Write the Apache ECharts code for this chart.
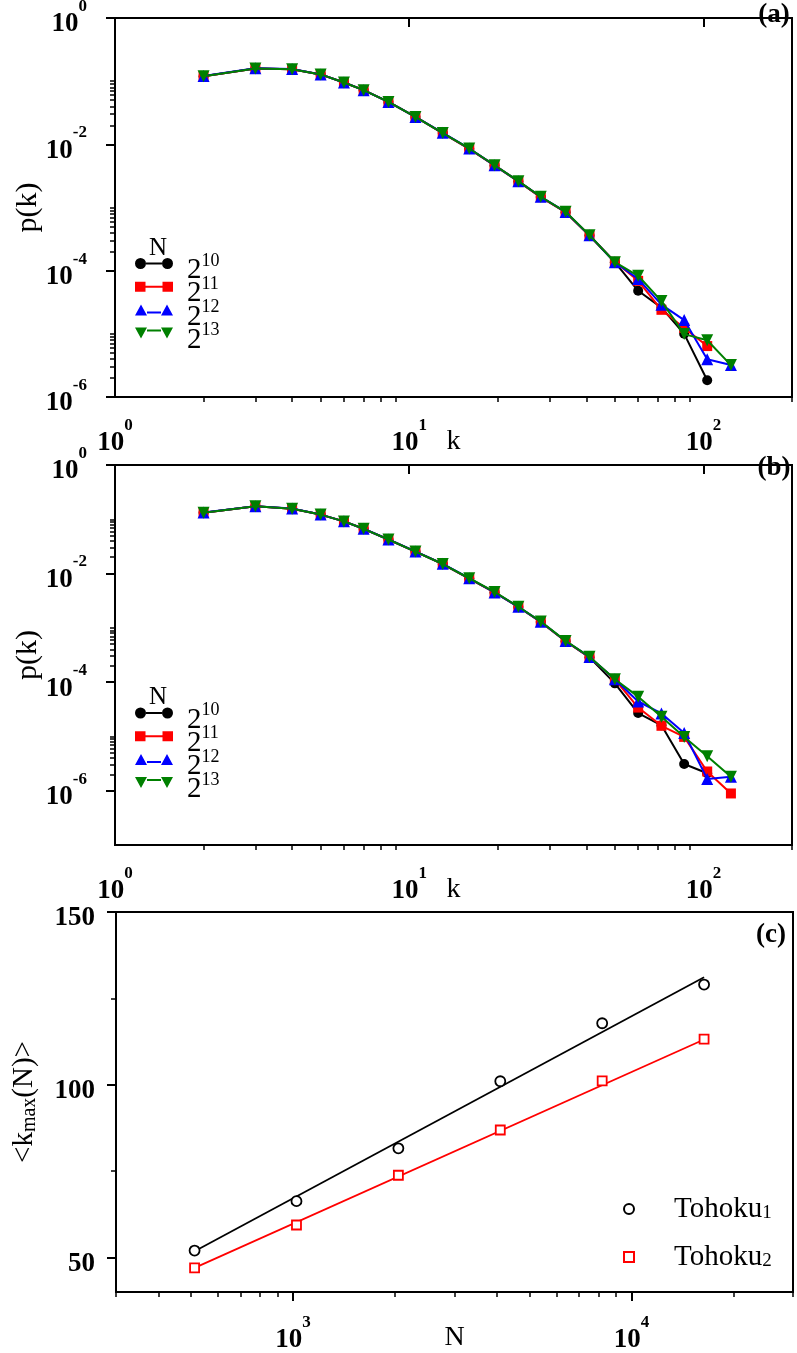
<!DOCTYPE html>
<html><head><meta charset="utf-8">
<script src="https://cdn.jsdelivr.net/npm/echarts@6/dist/echarts.min.js"></script>
<style>html,body{margin:0;padding:0;background:#fff}#c{width:797px;height:1353px}</style>
</head><body><div id="c"></div>
<script>
// ---------- data ----------
const kValues = [2,3,4,5,6,7,8.5,10.5,13,16,19.5,23.5,28,34,41,50,60,72,86,103,124];
const seriesNames = ['2^10','2^11','2^12','2^13'];
const seriesColors = ['#000000','#ff0000','#0000ff','#008000'];

// panel (a)
const pA_2_10 = [0.120,0.159,0.155,0.128,0.0954,0.0720,0.0469,0.0271,0.0151,0.0085,0.00464,0.00259,0.00146,0.000843,0.000360,0.000136,4.8e-5,2.6e-5,1.0e-5,1.84e-6];
const pA_2_11 = [0.120,0.159,0.155,0.128,0.0954,0.0720,0.0469,0.0271,0.0151,0.0085,0.00464,0.00259,0.00146,0.000843,0.000360,0.000138,6.9e-5,2.4e-5,1.24e-5,6.4e-6];
const pA_2_12 = [0.121,0.160,0.156,0.128,0.0955,0.0721,0.0470,0.0272,0.0152,0.0086,0.00465,0.00260,0.00148,0.000850,0.000362,0.000136,7.4e-5,2.9e-5,1.65e-5,3.96e-6,3.2e-6];
const pA_2_13 = [0.120,0.159,0.155,0.128,0.0953,0.0720,0.0469,0.0271,0.0151,0.0086,0.00466,0.00261,0.00148,0.000855,0.000365,0.000136,8.3e-5,3.3e-5,9.9e-6,7.9e-6,3.2e-6];

// panel (b)
const pB_2_10 = [0.132,0.173,0.157,0.122,0.0914,0.0668,0.0424,0.0254,0.0150,0.0081,0.0045,0.00242,0.00128,0.000567,0.000286,9.5e-5,2.7e-5,1.6e-5,3.1e-6,2.1e-6];
const pB_2_11 = [0.132,0.173,0.157,0.122,0.0914,0.0668,0.0424,0.0254,0.0150,0.0081,0.0045,0.00242,0.00128,0.000567,0.000288,1.13e-4,3.4e-5,1.57e-5,9.8e-6,2.26e-6,8.9e-7];
const pB_2_12 = [0.133,0.174,0.158,0.122,0.0916,0.0669,0.0425,0.0255,0.0151,0.0082,0.0045,0.00244,0.00130,0.000572,0.000292,1.13e-4,4.4e-5,2.65e-5,1.16e-5,1.65e-6,1.8e-6];
const pB_2_13 = [0.132,0.173,0.157,0.122,0.0914,0.0668,0.0424,0.0254,0.0150,0.0082,0.0046,0.00245,0.00131,0.000575,0.000294,1.13e-4,5.4e-5,2.3e-5,9.8e-6,4.3e-6,1.8e-6];

// panel (c)
const NValues = [512,1024,2048,4096,8192,16384];
const tohoku1 = [52.0,66.3,81.6,101.0,117.8,129.0];
const tohoku2 = [47.0,59.4,73.8,86.9,101.1,113.2];
const fitN = [512,16384];
const fit1 = [51.8,131.1];
const fit2 = [47.0,113.1];

// tick labels / tick values
const kMajorTicks = [1,10,100];
const kMinorTicks = [2,3,4,5,6,7,8,9,20,30,40,50,60,70,80,90,200];
const pMajorTicks = [1e-6,1e-4,1e-2,1];
const pMinorTicks = [2e-6,3e-6,4e-6,5e-6,6e-6,7e-6,8e-6,9e-6,1e-5,
                     2e-4,3e-4,4e-4,5e-4,6e-4,7e-4,8e-4,9e-4,1e-3,
                     2e-2,3e-2,4e-2,5e-2,6e-2,7e-2,8e-2,9e-2,1e-1];
const NMajorTicks = [1000,10000];
const NMinorTicks = [300,400,500,600,700,800,900,2000,3000,4000,5000,6000,7000,8000,9000,20000,30000];
const kmaxTicks = [50,100,150];
const kmaxMinorTicks = [75,125];

// ---------- chart ----------
const SERIF = "'Liberation Serif','Times New Roman',serif";
const L10 = Math.log10;
const chart = echarts.init(document.getElementById('c'));

const tickRich = {
  b:{fontFamily:SERIF,fontWeight:'bold',fontSize:27,lineHeight:40,verticalAlign:'bottom',color:'#000'},
  s:{fontFamily:SERIF,fontWeight:'bold',fontSize:17,lineHeight:17,verticalAlign:'top',color:'#000'}
};
const powLabel = v => '{b|10}{s|' + Math.round(v) + '}';
const plainLabel = v => '{b|' + Math.round(v) + '}';
const nameStyle = {fontFamily:SERIF,fontSize:28,color:'#000'};

function dataAxis(type, grid, min, max){
  return {type:type, gridIndex:grid, min:min, max:max, show:false, splitLine:{show:false}};
}
function majorAxis(pos, grid, min, max, ticks, margin, extra, fmt){
  return Object.assign({
    type:'value', gridIndex:grid, position:pos, min:min, max:max,
    axisLine:{show:false}, splitLine:{show:false},
    axisTick:{show:true, inside:false, length:9, customValues:ticks, lineStyle:{color:'#000',width:2}},
    axisLabel:{show:true, customValues:ticks, formatter:fmt||powLabel, rich:tickRich, margin:margin,
               fontFamily:SERIF, fontWeight:'bold', fontSize:27, color:'#000'},
    nameMoveOverlap:false
  }, extra||{});
}
function minorAxis(pos, grid, min, max, ticks){
  return {type:'value', gridIndex:grid, position:pos, min:min, max:max,
    axisLine:{show:false}, splitLine:{show:false},
    axisTick:{show:true, inside:false, length:5, customValues:ticks, lineStyle:{color:'#000',width:1.5}},
    axisLabel:{show:false}};
}

const gridBase = {show:true, borderColor:'#000', borderWidth:2, backgroundColor:'transparent', containLabel:false, outerBoundsMode:'none'};
const grids = [
  Object.assign({left:115, top:18, width:677, height:379}, gridBase),
  Object.assign({left:115, top:465, width:677, height:380}, gridBase),
  Object.assign({left:116, top:912, width:677, height:380}, gridBase)
];

const kNameExtra = {name:'k', nameLocation:'middle', nameGap:31, nameTextStyle:nameStyle};
const pNameExtra = {name:'p(k)', nameLocation:'middle', nameGap:72, nameTextStyle:{fontFamily:SERIF,fontSize:30,color:'#000'}};
const kmaxNameExtra = {name:'{n|<k}{u|max}{n|(N)>}', nameLocation:'middle', nameGap:76,
  nameTextStyle:{rich:{
    n:{fontFamily:SERIF,fontSize:29,lineHeight:30,verticalAlign:'top',color:'#000'},
    u:{fontFamily:SERIF,fontSize:20,lineHeight:14,verticalAlign:'bottom',color:'#000'}}}};

const xAxes = [
  dataAxis('log',0,1,200),
  majorAxis('bottom',0,0,L10(200),kMajorTicks.map(L10),20,kNameExtra),
  minorAxis('bottom',0,0,L10(200),kMinorTicks.map(L10)),
  dataAxis('log',1,1,200),
  majorAxis('bottom',1,0,L10(200),kMajorTicks.map(L10),20,kNameExtra),
  minorAxis('bottom',1,0,L10(200),kMinorTicks.map(L10)),
  dataAxis('log',2,300,30000),
  majorAxis('bottom',2,L10(300),L10(30000),NMajorTicks.map(L10),22,{name:'N', nameLocation:'middle', nameGap:32, nameTextStyle:nameStyle}),
  minorAxis('bottom',2,L10(300),L10(30000),NMinorTicks.map(L10))
];
const yAxes = [
  dataAxis('log',0,1e-6,1),
  majorAxis('left',0,-6,0,pMajorTicks.map(L10),28,pNameExtra),
  minorAxis('left',0,-6,0,pMinorTicks.map(L10)),
  dataAxis('log',1,1e-7,1),
  majorAxis('left',1,-7,0,pMajorTicks.map(L10),28,pNameExtra),
  minorAxis('left',1,-7,0,pMinorTicks.map(L10)),
  dataAxis('value',2,40,150),
  majorAxis('left',2,40,150,kmaxTicks,21,kmaxNameExtra,plainLabel),
  minorAxis('left',2,40,150,kmaxMinorTicks)
];

const symbols = ['circle','rect','triangle','triangle'];
const symbolSizes = [10,10,12,12];
const symbolRot = [0,0,0,180];
function pkSeries(name, idx, values, axisIdx){
  return {type:'line', name:name, xAxisIndex:axisIdx, yAxisIndex:axisIdx,
    data: values.map((v,i)=>[kValues[i], v]),
    symbol:symbols[idx], symbolSize:symbolSizes[idx], symbolRotate:symbolRot[idx], showAllSymbol:true,
    color:seriesColors[idx],
    lineStyle:{color:seriesColors[idx], width:2},
    itemStyle:{color:seriesColors[idx], borderWidth:0, opacity:1},
    z:2+idx, animation:false};
}
const series = [
  pkSeries(seriesNames[0],0,pA_2_10,0),
  pkSeries(seriesNames[1],1,pA_2_11,0),
  pkSeries(seriesNames[2],2,pA_2_12,0),
  pkSeries(seriesNames[3],3,pA_2_13,0),
  pkSeries(seriesNames[0],0,pB_2_10,3),
  pkSeries(seriesNames[1],1,pB_2_11,3),
  pkSeries(seriesNames[2],2,pB_2_12,3),
  pkSeries(seriesNames[3],3,pB_2_13,3),
  {type:'line', name:'fit1', xAxisIndex:6, yAxisIndex:6, data:fitN.map((n,i)=>[n,fit1[i]]), showSymbol:false, symbol:'none',
   lineStyle:{color:'#000',width:1.8}, z:2},
  {type:'line', name:'fit2', xAxisIndex:6, yAxisIndex:6, data:fitN.map((n,i)=>[n,fit2[i]]), showSymbol:false, symbol:'none',
   lineStyle:{color:'#ff0000',width:1.8}, z:2},
  {type:'scatter', name:'Tohoku1', xAxisIndex:6, yAxisIndex:6, data:NValues.map((n,i)=>[n,tohoku1[i]]),
   symbol:'circle', symbolSize:10, itemStyle:{color:'#fff', borderColor:'#000', borderWidth:1.8, opacity:1}, z:5},
  {type:'scatter', name:'Tohoku2', xAxisIndex:6, yAxisIndex:6, data:NValues.map((n,i)=>[n,tohoku2[i]]),
   symbol:'rect', symbolSize:9, itemStyle:{color:'#fff', borderColor:'#ff0000', borderWidth:1.8, opacity:1}, z:5}
];

const legendIcons = [
  'path://M0,5.5A5.5,5.5 0 1,1 11,5.5A5.5,5.5 0 1,1 0,5.5Z M11,4.5L27,4.5L27,6.5L11,6.5Z M27,5.5A5.5,5.5 0 1,1 38,5.5A5.5,5.5 0 1,1 27,5.5Z',
  'path://M0,0.5L10.5,0.5L10.5,10.5L0,10.5Z M10.5,4.5L27.5,4.5L27.5,6.5L10.5,6.5Z M27.5,0.5L38,0.5L38,10.5L27.5,10.5Z M0,0L0.01,0L0,11Z',
  'path://M0,11L6,0L12,11Z M12,7.2L26,7.2L26,9.2L12,9.2Z M26,11L32,0L38,11Z',
  'path://M0,0L12,0L6,11Z M12,1.8L26,1.8L26,3.8L12,3.8Z M26,0L38,0L32,11Z'
];
const pkLegendText = {
  padding:[10,0,0,9],
  rich:{
    b:{fontFamily:SERIF,fontSize:29,lineHeight:33,verticalAlign:'bottom',color:'#000'},
    s:{fontFamily:SERIF,fontSize:18,lineHeight:10,verticalAlign:'top',color:'#000'}
  }
};
function pkLegend(top){
  return {orient:'vertical', left:135, top:top, padding:0, itemWidth:38, itemHeight:11, itemGap:-9.8,
    selectedMode:false, itemStyle:{borderWidth:0},
    data: seriesNames.map((n,i)=>({name:n, icon:legendIcons[i], itemStyle:{color:seriesColors[i], borderWidth:0}})),
    formatter: n => '{b|2}{s|' + n.split('^')[1] + '}',
    textStyle: pkLegendText};
}
const legends = [
  pkLegend(252),
  pkLegend(701.5),
  {orient:'vertical', left:623, top:1195, padding:0, itemWidth:10, itemHeight:10, itemGap:19, selectedMode:false,
   itemStyle:{opacity:1},
   data:['Tohoku1','Tohoku2'],
   formatter: n => '{n|Tohoku}{u|' + n.slice(6) + '}',
   textStyle:{padding:[0,0,0,35], rich:{
     n:{fontFamily:SERIF,fontSize:29,lineHeight:28,verticalAlign:'top',color:'#000'},
     u:{fontFamily:SERIF,fontSize:19,lineHeight:10,verticalAlign:'bottom',color:'#000'}}}}
];

const txt = (x,y,t,font,align) => ({type:'text', x:x, y:y, z:50,
  style:{text:t, font:font, fill:'#000', align:align||'center', verticalAlign:'middle'}});
const graphics = [
  txt(158,248,'N','25px '+SERIF),
  txt(158,697,'N','25px '+SERIF),
  txt(774,15,'(a)','bold 27px '+SERIF),
  txt(774,468,'(b)','bold 27px '+SERIF),
  txt(771,935,'(c)','bold 27px '+SERIF)
];

chart.setOption({
  animation:false,
  backgroundColor:'#fff',
  grid:grids,
  xAxis:xAxes,
  yAxis:yAxes,
  legend:legends,
  series:series,
  graphic:graphics
});
</script>
</body></html>
